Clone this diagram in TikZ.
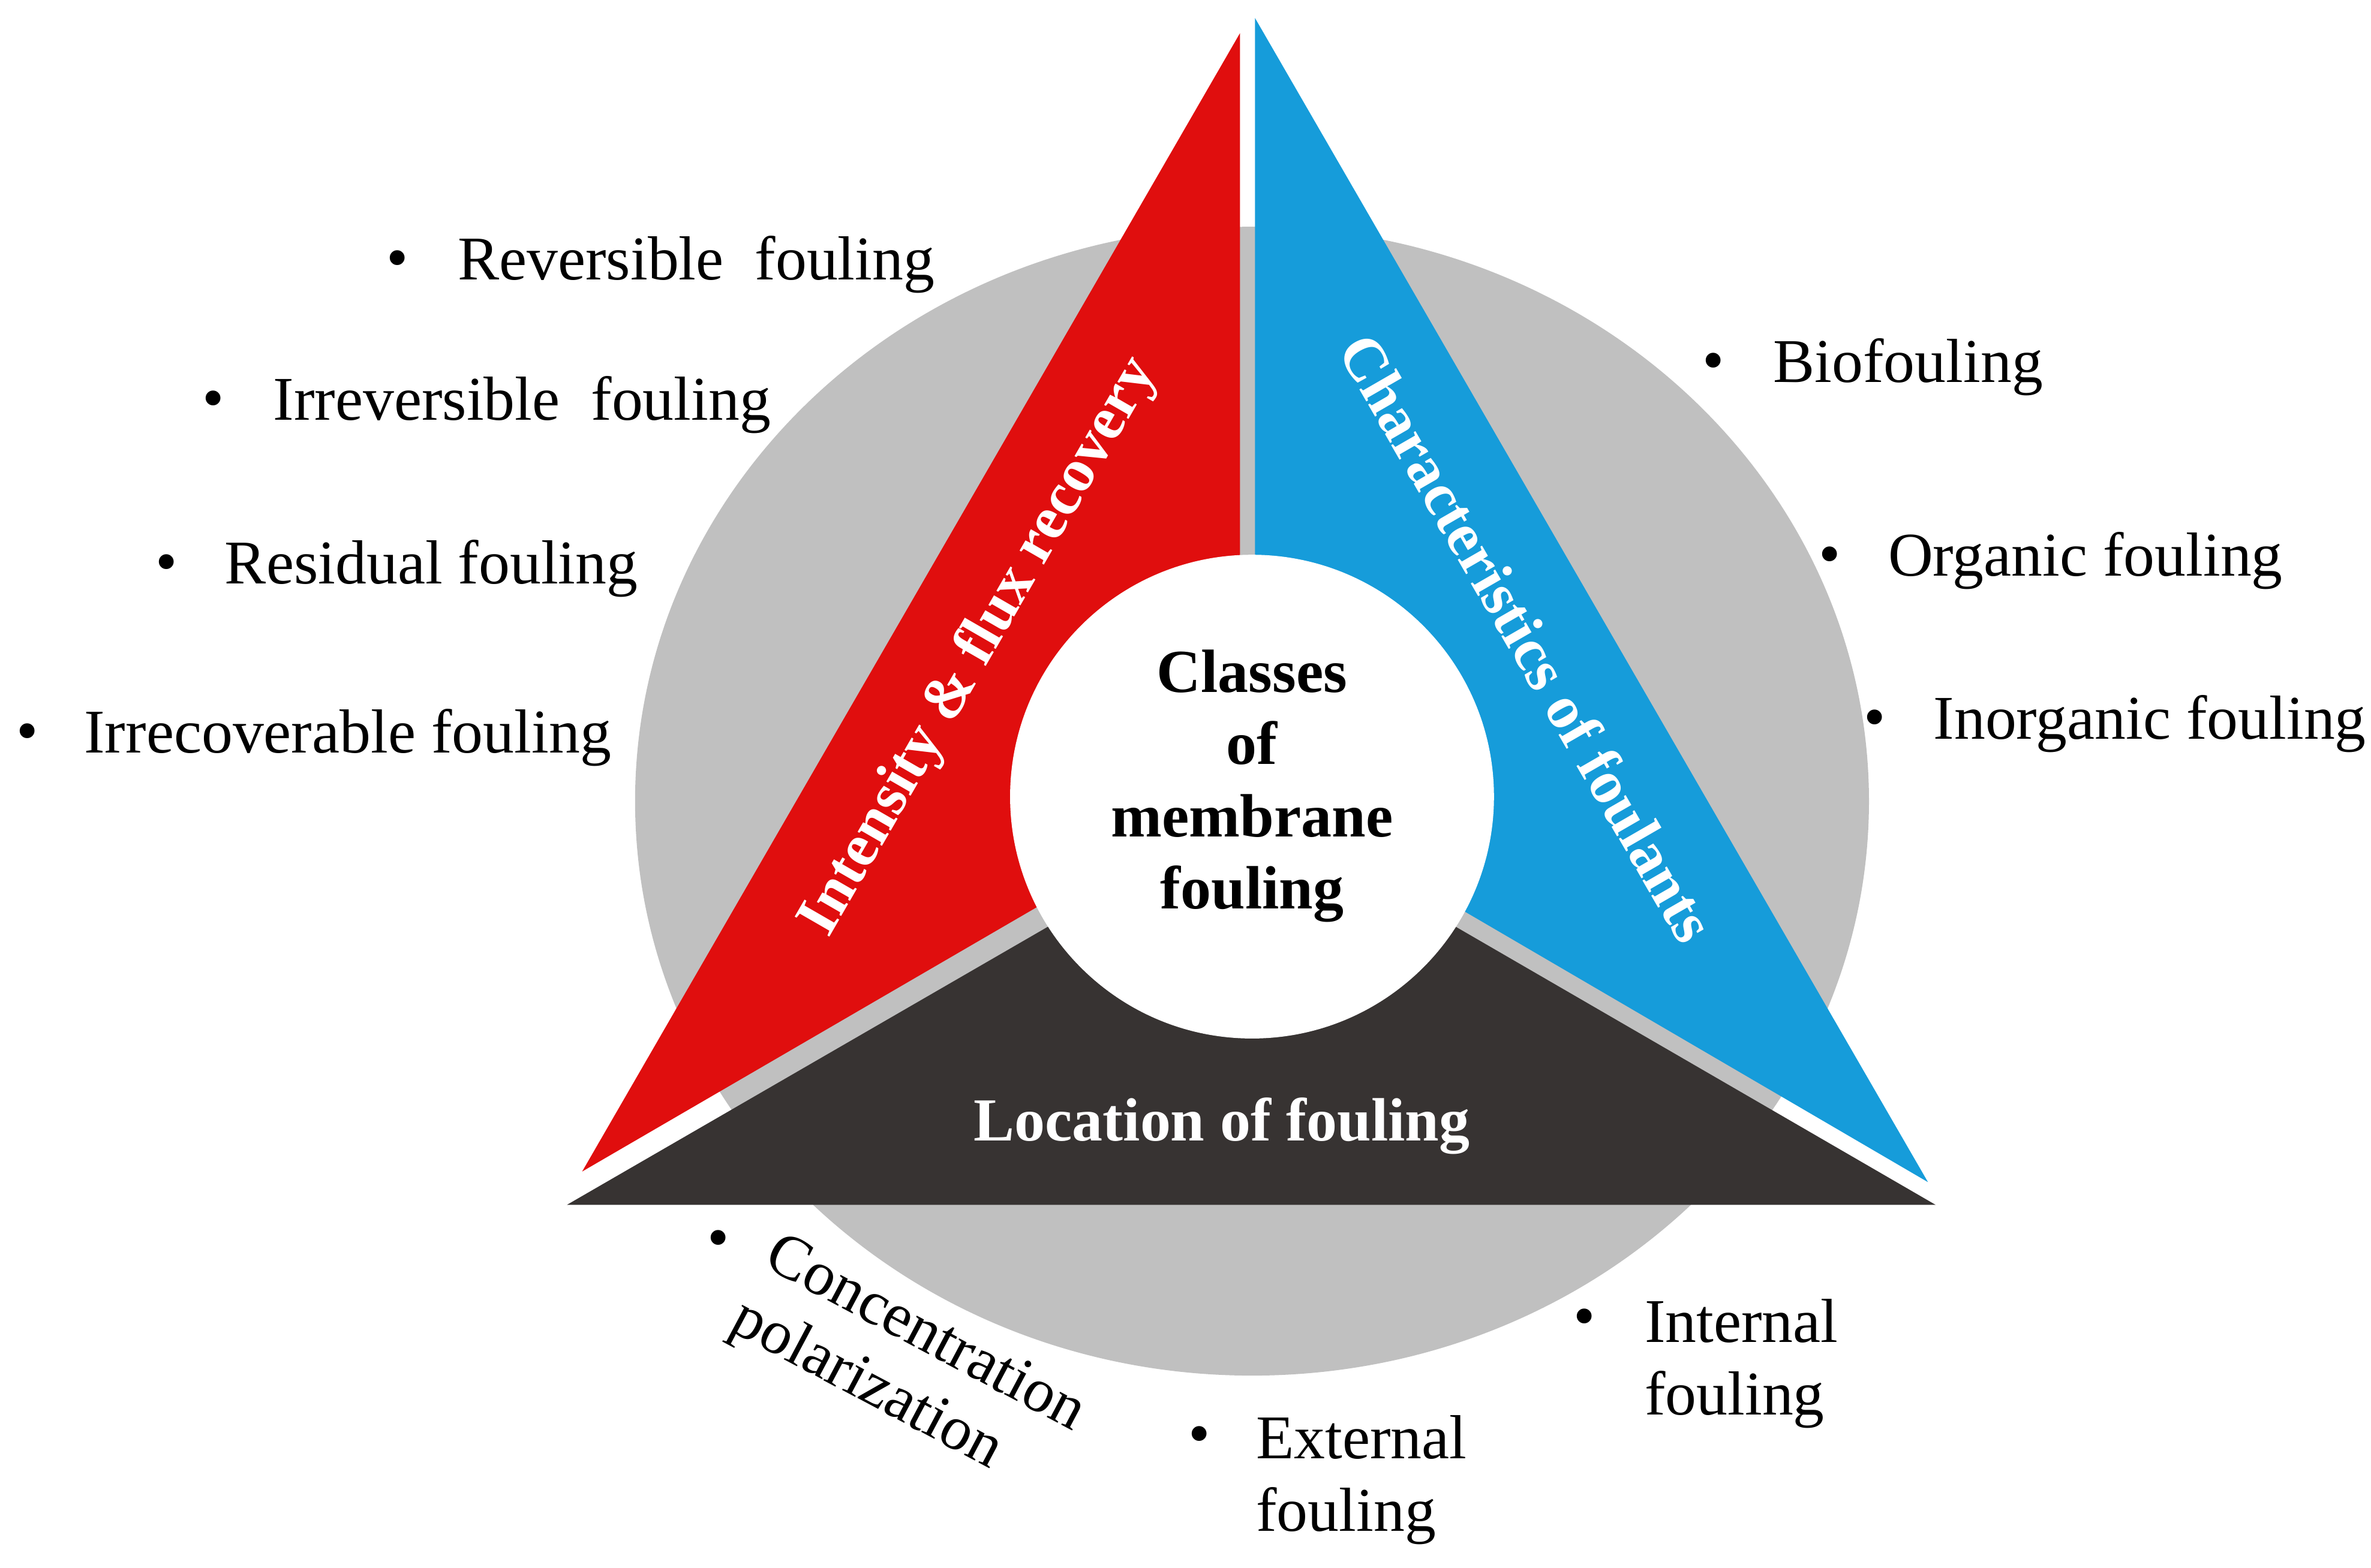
\documentclass[tikz,border=0pt]{standalone}
\usepackage{fontspec}
\setmainfont{Liberation Serif}
\definecolor{cred}{RGB}{224,14,14}
\definecolor{cblue}{RGB}{22,156,218}
\definecolor{cdark}{RGB}{55,51,50}
\definecolor{cgray}{RGB}{192,192,192}
\begin{document}
\begin{tikzpicture}[x=0.01cm,y=-0.01cm,
  lbl/.style={font=\fontsize{11.7}{13.6}\selectfont,anchor=west,inner sep=0pt},
  bul/.style={font=\fontsize{11.7}{13.6}\selectfont,inner sep=0pt},
  two/.style={font=\fontsize{11.7}{13.6}\selectfont,align=left,inner sep=0pt},
  big/.style={font=\bfseries\fontsize{11.5}{13.6}\selectfont,text=white}]
\useasboundingbox (0,0) rectangle (1568,1037);
\fill[cgray] (828,530) ellipse [x radius=408, y radius=380];
\fill[cred] (820,22) -- (385,775) -- (820,522) -- cycle;
\fill[cblue] (830,12) -- (1275,782) -- (830,522) -- cycle;
\fill[cdark] (375,797) -- (1280,797) -- (828,535) -- cycle;
\fill[white] (828,527) circle (160);
\node[big,rotate=60] (a) at (648,428) {Intensity \& flux recovery};
\node[big,rotate=-60] (b) at (1010,422) {Characteristics of foulants};
\node[big] (c) at (808,745) {Location of fouling};
\node[font=\bfseries\fontsize{11.5}{13.6}\selectfont,align=center] (ctr) at (828,520) {Classes\\of\\membrane\\fouling};
\node[bul] (b1) at (263,175) {•}; \node[lbl] (t1) at (302,175) {Reversible\ \ fouling};
\node[bul] (b2) at (141,268) {•}; \node[lbl] (t2) at (180,268) {Irreversible\ \ fouling};
\node[bul] (b3) at (110,376) {•}; \node[lbl] (t3) at (148,376) {Residual fouling};
\node[bul] (b4) at (18,488) {•}; \node[lbl] (t4) at (55,488) {Irrecoverable fouling};
\node[bul] (b5) at (1133,243) {•}; \node[lbl] (t5) at (1172,243) {Biofouling};
\node[bul] (b6) at (1210,371) {•}; \node[lbl] (t6) at (1248,371) {Organic fouling};
\node[bul] (b7) at (1240,479) {•}; \node[lbl] (t7) at (1278,479) {Inorganic fouling};
\node[bul] (b8) at (475,823) {•};
\node[two,rotate=-28] (t8) at (600,905) {Concentration\\polarization};
\node[bul] (b9) at (793,953) {•};
\node[two,anchor=west] (t9) at (830,979) {External\\fouling};
\node[bul] (b10) at (1048,875) {•};
\node[two,anchor=west] (t10) at (1087,902) {Internal\\fouling};
\end{tikzpicture}
\end{document}
